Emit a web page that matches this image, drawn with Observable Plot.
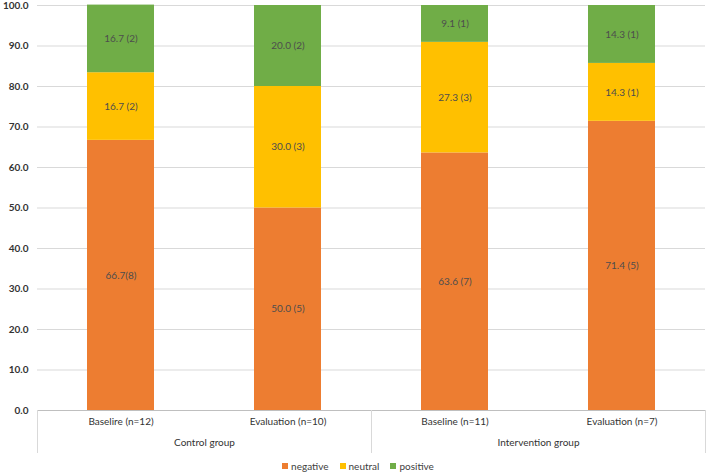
<!DOCTYPE html>
<html>
<head>
<meta charset="utf-8">
<script src="https://cdn.jsdelivr.net/npm/d3@7"></script>
<script src="https://cdn.jsdelivr.net/npm/@observablehq/plot@0.6"></script>
<style>
  body { margin: 0; background: #fff; font-family: Lato, "Open Sans", sans-serif; }
  #legend { display: flex; justify-content: center; gap: 11px; font-size: 10px; color: #404040; margin-left: 8px; margin-top: 5px; }
  #legend span { display: inline-flex; align-items: center; }
  #legend i { display: inline-block; width: 6px; height: 6px; margin-right: 3px; }
</style>
</head>
<body>
<div id="chart"></div>
<div id="legend"></div>
<script>
const groups = ["Control group", "Intervention group"];
const phases = ["Baseline", "Evaluation"];
const xLabels = ["Baselire (n=12)", "Evaluation (n=10)", "Baseline (n=11)", "Evaluation (n=7)"];
const sentiments = ["negative", "neutral", "positive"];
const colors = ["#ED7D31", "#FFC000", "#70AD47"];
const negative = [66.7, 50.0, 63.6, 71.4];
const neutral = [16.7, 30.0, 27.3, 14.3];
const positive = [16.7, 20.0, 9.1, 14.3];
const negLabels = ["66.7(8)", "50.0 (5)", "63.6 (7)", "71.4 (5)"];
const neuLabels = ["16.7 (2)", "30.0 (3)", "27.3 (3)", "14.3 (1)"];
const posLabels = ["16.7 (2)", "20.0 (2)", "9.1 (1)", "14.3 (1)"];
const yTicks = [0, 10, 20, 30, 40, 50, 60, 70, 80, 90, 100];

const series = [
  {name: "negative", values: negative, labels: negLabels},
  {name: "neutral", values: neutral, labels: neuLabels},
  {name: "positive", values: positive, labels: posLabels}
];
const rows = [];
const cats = [];
xLabels.forEach((lab, i) => {
  const group = groups[Math.floor(i / 2)], phase = phases[i % 2];
  cats.push({group, phase, label: lab});
  series.forEach(s => rows.push({group, phase, sentiment: s.name, value: s.values[i], label: s.labels[i]}));
});

const chart = Plot.plot({
  width: 708, height: 455,
  marginTop: 5, marginLeft: 37, marginRight: 3, marginBottom: 45,
  style: {fontFamily: "Lato, 'Open Sans', sans-serif", fontSize: "10px", color: "#404040", background: "#fff"},
  fx: {domain: groups, padding: 0, axis: null},
  x: {domain: phases, paddingInner: 0.6, paddingOuter: 0.3, axis: null},
  y: {domain: [0, 100], axis: null},
  color: {domain: sentiments, range: colors},
  marks: [
    Plot.ruleY(yTicks.slice(1), {stroke: "#d9d9d9", strokeWidth: 1}),
    Plot.barY(rows, {fx: "group", x: "phase", y: "value", fill: "sentiment"}),
    Plot.ruleY([0], {stroke: "#bfbfbf"}),
    Plot.text(rows, Plot.stackY({fx: "group", x: "phase", y: "value", text: "label", fill: "#4d4d4d", fontSize: 10})),
    Plot.frame({anchor: "left", insetTop: 405, insetBottom: -42, stroke: "#d9d9d9"}),
    Plot.frame({anchor: "right", insetTop: 405, insetBottom: -42, stroke: "#d9d9d9"}),
    Plot.text(cats, {fx: "group", x: "phase", text: "label", frameAnchor: "bottom", dy: 14, fill: "#333", fontSize: 10}),
    Plot.text(groups, {fx: d => d, text: d => d, frameAnchor: "bottom", dy: 35, fill: "#333", fontSize: 10}),
    Plot.axisY(yTicks, {tickFormat: d3.format(".1f"), tickSize: 0, tickPadding: 9, label: null, fill: "#333", fontWeight: "bold", facetAnchor: "left"})
  ]
});
document.getElementById("chart").appendChild(chart);

const legend = document.getElementById("legend");
sentiments.forEach((s, i) => {
  const span = document.createElement("span");
  const sw = document.createElement("i");
  sw.style.background = colors[i];
  span.appendChild(sw);
  span.appendChild(document.createTextNode(s));
  legend.appendChild(span);
});
</script>
</body>
</html>
